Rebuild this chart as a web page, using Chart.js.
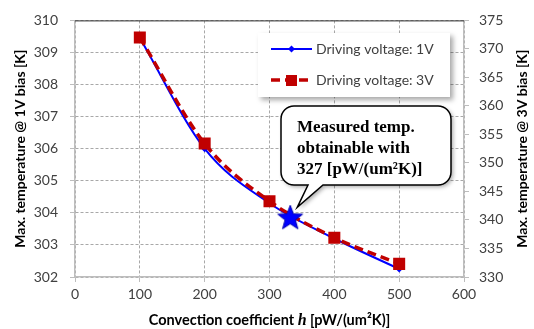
<!DOCTYPE html>
<html><head><meta charset="utf-8">
<script src="https://cdn.jsdelivr.net/npm/chart.js@4"></script>
<style>html,body{margin:0;padding:0;background:#fff;}#wrap{width:534px;height:329px;position:relative;}</style>
</head><body><div id="wrap"><canvas id="c" width="534" height="329"></canvas></div>
<script>
// ---- data ----
const hValues = [100, 200, 300, 400, 500];
const temp1V = [309.45, 306.0, 304.3, 303.2, 302.25];
const temp3V = [372.0, 353.4, 343.3, 336.9, 332.3];
const measuredH = [332];
const measuredT = [303.83];
const seriesLabels = ['Driving voltage: 1V', 'Driving voltage: 3V'];
const calloutLines = ['Measured temp.', 'obtainable with', '327 [pW/(um\u00B2K)]'];
const leftTitle = 'Max. temperature @ 1V bias [K]';
const rightTitle = 'Max. temperature @ 3V bias [K]';
const xTitleParts = ['Convection coefficient ', 'h', ' [pW/(um\u00B2K)]'];

const BLUE = '#0000FF', RED = '#C00000', GRID = '#A8A8A8', AXIS = '#BDBDBD', TXT = '#404040';
const SANS = 'Lato, "Open Sans", sans-serif';
const SERIF = '"Liberation Serif", "DejaVu Serif", serif';

// filled 5-point star used as point style
function makeStar(R) {
  const s = document.createElement('canvas');
  const size = Math.ceil(R * 2 + 4);
  s.width = size; s.height = size;
  const g = s.getContext('2d');
  const cx = size / 2, cy = size / 2, r = R * 0.42;
  g.beginPath();
  for (let i = 0; i < 10; i++) {
    const a = -Math.PI / 2 + i * Math.PI / 5;
    const rr = i % 2 === 0 ? R : r;
    const px = cx + rr * Math.cos(a), py = cy + rr * Math.sin(a);
    i === 0 ? g.moveTo(px, py) : g.lineTo(px, py);
  }
  g.closePath();
  g.fillStyle = BLUE; g.fill();
  g.strokeStyle = '#0000B0'; g.lineWidth = 1; g.stroke();
  return s;
}
const starImg = makeStar(13);

const pts = (xs, ys) => xs.map((x, i) => ({x: x, y: ys[i]}));

const decor = {
  id: 'decor',
  afterDraw(chart) {
    const ctx = chart.ctx, ca = chart.chartArea;
    const xs = chart.scales.x, ys = chart.scales.y;
    ctx.save();
    // top border
    ctx.strokeStyle = '#303030'; ctx.lineWidth = 1;
    ctx.beginPath(); ctx.moveTo(ca.left, ca.top + 0.5); ctx.lineTo(ca.right, ca.top + 0.5); ctx.stroke();

    // axis titles
    ctx.fillStyle = '#000';
    ctx.font = 'bold 14px ' + SANS;
    ctx.textAlign = 'center'; ctx.textBaseline = 'middle';
    ctx.save(); ctx.translate(20, (ca.top + ca.bottom) / 2); ctx.rotate(-Math.PI / 2);
    ctx.fillText(leftTitle, 0, 0); ctx.restore();
    ctx.save(); ctx.translate(522, (ca.top + ca.bottom) / 2); ctx.rotate(-Math.PI / 2);
    ctx.fillText(rightTitle, 0, 0); ctx.restore();
    // x title with italic h
    const f1 = 'bold 14.5px ' + SANS, f2 = 'bold italic 16px ' + SERIF;
    ctx.font = f1; const w0 = ctx.measureText(xTitleParts[0]).width, w2 = ctx.measureText(xTitleParts[2]).width;
    ctx.font = f2; const w1 = ctx.measureText(xTitleParts[1]).width;
    let tx = (ca.left + ca.right) / 2 - (w0 + w1 + w2) / 2;
    const ty = 325;
    ctx.textAlign = 'left'; ctx.textBaseline = 'alphabetic';
    ctx.font = f1; ctx.fillText(xTitleParts[0], tx, ty); tx += w0;
    ctx.font = f2; ctx.fillText(xTitleParts[1], tx, ty); tx += w1;
    ctx.font = f1; ctx.fillText(xTitleParts[2], tx, ty);

    // legend box
    const lx = 258, ly = 33, lw = 192, lh = 64;
    ctx.save();
    ctx.shadowColor = 'rgba(0,0,0,0.35)'; ctx.shadowBlur = 5; ctx.shadowOffsetX = 3; ctx.shadowOffsetY = 3;
    ctx.fillStyle = '#fff'; ctx.fillRect(lx, ly, lw, lh);
    ctx.restore();
    // entry 1
    let yy = 49;
    ctx.strokeStyle = BLUE; ctx.lineWidth = 2; ctx.setLineDash([]);
    ctx.beginPath(); ctx.moveTo(271, yy); ctx.lineTo(312, yy); ctx.stroke();
    ctx.fillStyle = BLUE; ctx.beginPath();
    ctx.moveTo(291.5, yy - 3.5); ctx.lineTo(295, yy); ctx.lineTo(291.5, yy + 3.5); ctx.lineTo(288, yy); ctx.closePath(); ctx.fill();
    ctx.fillStyle = TXT; ctx.font = '14px ' + SANS; ctx.textBaseline = 'middle'; ctx.textAlign = 'left';
    ctx.fillText(seriesLabels[0], 316, yy);
    // entry 2
    yy = 80;
    ctx.strokeStyle = RED; ctx.lineWidth = 3.5; ctx.setLineDash([9, 5]);
    ctx.beginPath(); ctx.moveTo(271, yy); ctx.lineTo(312, yy); ctx.stroke(); ctx.setLineDash([]);
    ctx.fillStyle = RED; ctx.fillRect(286, yy - 5, 11, 11);
    ctx.fillStyle = TXT; ctx.fillText(seriesLabels[1], 316, yy);

    // callout
    const tipX = xs.getPixelForValue(measuredH[0]) + 7, tipY = ys.getPixelForValue(measuredT[0]) - 11;
    const bx = 281, by = 106, bw = 170, bh = 79, r = 13;
    ctx.save();
    ctx.beginPath();
    ctx.moveTo(bx + r, by);
    ctx.lineTo(bx + bw - r, by); ctx.arcTo(bx + bw, by, bx + bw, by + r, r);
    ctx.lineTo(bx + bw, by + bh - r); ctx.arcTo(bx + bw, by + bh, bx + bw - r, by + bh, r);
    ctx.lineTo(323, by + bh); ctx.lineTo(tipX, tipY); ctx.lineTo(308, by + bh);
    ctx.lineTo(bx + r, by + bh); ctx.arcTo(bx, by + bh, bx, by + bh - r, r);
    ctx.lineTo(bx, by + r); ctx.arcTo(bx, by, bx + r, by, r);
    ctx.closePath();
    ctx.shadowColor = 'rgba(0,0,0,0.35)'; ctx.shadowBlur = 4; ctx.shadowOffsetX = 2; ctx.shadowOffsetY = 2;
    ctx.fillStyle = '#fff'; ctx.fill();
    ctx.shadowColor = 'transparent';
    ctx.strokeStyle = '#000'; ctx.lineWidth = 1.5; ctx.stroke();
    ctx.restore();
    ctx.fillStyle = '#000'; ctx.font = 'bold 17px ' + SERIF; ctx.textAlign = 'left'; ctx.textBaseline = 'alphabetic';
    calloutLines.forEach((t, i) => ctx.fillText(t, 297, 132 + i * 21));
    ctx.restore();
  }
};

new Chart(document.getElementById('c'), {
  type: 'line',
  data: {
    datasets: [
      { label: seriesLabels[0], data: pts(hValues, temp1V), yAxisID: 'y', order: 2,
        borderColor: BLUE, backgroundColor: BLUE, borderWidth: 2, cubicInterpolationMode: 'monotone',
        pointStyle: 'rectRot', pointRadius: 3.5, pointBorderWidth: 0 },
      { label: seriesLabels[1], data: pts(hValues, temp3V), yAxisID: 'y1', order: 1,
        borderColor: RED, backgroundColor: RED, borderWidth: 3.5, borderDash: [9, 5], cubicInterpolationMode: 'monotone',
        pointStyle: 'rect', pointRadius: 8.5, pointBorderWidth: 0 },
      { label: 'measured', data: pts(measuredH, measuredT), yAxisID: 'y', order: 0,
        showLine: false, pointStyle: starImg, pointRadius: 13 }
    ]
  },
  options: {
    responsive: false, animation: false, events: [],
    layout: { padding: { top: 17, left: 0, right: 0, bottom: 0 } },
    plugins: { legend: { display: false }, tooltip: { enabled: false } },
    scales: {
      x: { type: 'linear', min: 0, max: 600,
        ticks: { stepSize: 100, color: TXT, font: { family: SANS, size: 14 }, padding: 4, maxRotation: 0 },
        grid: { color: GRID, tickColor: AXIS, tickLength: 5 },
        border: { color: AXIS, width: 1.5, dash: [3, 2] },
        afterFit(s) { s.height = 52; } },
      y: { position: 'left', min: 302, max: 310,
        ticks: { stepSize: 1, color: TXT, font: { family: SANS, size: 14 }, padding: 12 },
        grid: { color: GRID, tickColor: AXIS, tickLength: 5 },
        border: { color: AXIS, width: 1.5, dash: [3, 2] },
        afterFit(s) { s.width = 75; } },
      y1: { position: 'right', min: 330, max: 375,
        ticks: { stepSize: 5, color: TXT, font: { family: SANS, size: 14 }, padding: 10 },
        grid: { drawOnChartArea: false, tickColor: AXIS, tickLength: 5 },
        border: { color: AXIS, width: 1.5 },
        afterFit(s) { s.width = 70; } }
    }
  },
  plugins: [decor]
});
</script>
</body></html>
